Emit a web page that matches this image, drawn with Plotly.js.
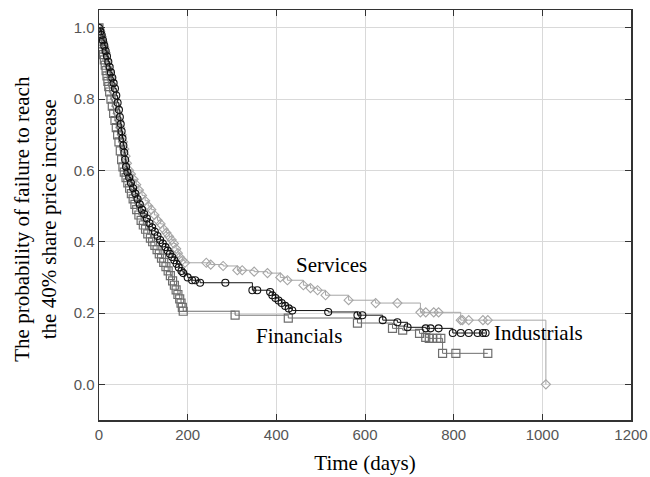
<!DOCTYPE html>
<html>
<head>
<meta charset="utf-8">
<script src="https://cdn.plot.ly/plotly-3.0.1.min.js"></script>
<style>html,body{margin:0;padding:0;background:#fff;}#chart{width:650px;height:477px;}</style>
</head>
<body>
<div id="chart"></div>
<script>
// Services (light gray, diamonds)
const servicesDays = [0,3,6,9,12,15,18,21,24,27,30,33,36,39,42,45,48,51,54,57,60,63,68,72,78,84,90,97,104,111,118,125,132,139,146,152,158,164,169,174,178,182,188,194,242,252,280,312,323,350,380,409,425,461,477,493,511,563,624,673,725,737,755,766,816,820,834,866,877,1008];
const servicesProb = [1.0,0.99,0.975,0.96,0.945,0.93,0.91,0.895,0.875,0.86,0.84,0.82,0.80,0.78,0.76,0.74,0.72,0.70,0.68,0.66,0.64,0.62,0.60,0.59,0.575,0.56,0.545,0.53,0.515,0.50,0.49,0.475,0.46,0.45,0.435,0.425,0.415,0.405,0.395,0.38,0.368,0.357,0.348,0.341,0.341,0.336,0.332,0.32,0.32,0.316,0.312,0.30,0.292,0.278,0.27,0.264,0.25,0.236,0.228,0.228,0.202,0.202,0.202,0.202,0.18,0.18,0.18,0.18,0.18,0.0];

// Industrials (black, circles)
const industrialsDays = [0,3,6,9,12,15,18,21,24,27,30,33,36,39,42,45,47,49,51,53,55,57,59,61,64,68,72,77,82,87,92,97,102,108,114,120,126,132,138,144,150,155,160,165,170,175,180,186,190,200,210,217,228,285,346,357,386,391,398,405,412,420,428,436,517,583,594,640,673,696,737,748,766,798,816,834,854,866,872];
const industrialsProb = [1.0,0.99,0.98,0.965,0.95,0.935,0.92,0.905,0.89,0.875,0.86,0.845,0.83,0.81,0.79,0.77,0.75,0.73,0.71,0.69,0.67,0.65,0.63,0.61,0.595,0.58,0.565,0.55,0.535,0.52,0.505,0.49,0.478,0.465,0.452,0.44,0.428,0.416,0.405,0.395,0.385,0.375,0.366,0.357,0.348,0.338,0.328,0.318,0.312,0.30,0.292,0.292,0.285,0.285,0.264,0.264,0.259,0.25,0.242,0.235,0.228,0.22,0.213,0.207,0.203,0.194,0.194,0.18,0.174,0.16,0.157,0.157,0.157,0.144,0.144,0.144,0.144,0.144,0.144];

// Financials (dark gray, squares)
const financialsDays = [0,2,4,6,8,10,12,14,16,18,20,22,24,27,30,33,36,39,42,45,48,51,54,57,61,65,69,73,77,81,85,90,95,100,105,110,116,121,126,131,136,141,146,151,156,161,166,170,174,178,182,185,188,190,307,427,583,662,685,723,737,745,752,762,771,775,805,877];
const financialsProb = [1.0,0.985,0.97,0.955,0.94,0.925,0.91,0.895,0.88,0.865,0.85,0.835,0.82,0.80,0.78,0.76,0.74,0.72,0.70,0.68,0.655,0.63,0.61,0.595,0.58,0.565,0.55,0.535,0.52,0.505,0.49,0.475,0.46,0.447,0.435,0.422,0.41,0.40,0.39,0.378,0.366,0.354,0.342,0.33,0.318,0.305,0.29,0.278,0.265,0.252,0.24,0.228,0.216,0.205,0.194,0.186,0.172,0.157,0.152,0.143,0.132,0.129,0.129,0.129,0.129,0.087,0.087,0.087];

const xTicks = [0,200,400,600,800,1000,1200];
const yTicks = [0.0,0.2,0.4,0.6,0.8,1.0];
const yTickText = ['0.0','0.2','0.4','0.6','0.8','1.0'];

const labelFont = {family:'Liberation Serif, Times New Roman, serif', size:21, color:'#000'};

const traces = [
  {x:servicesDays, y:servicesProb, name:'Services', mode:'lines+markers', line:{shape:'hv', color:'#a6a6a6', width:1},
   marker:{symbol:'diamond-open', size:7, color:'#a6a6a6', line:{width:1.1}}},
  {x:financialsDays, y:financialsProb, name:'Financials', mode:'lines+markers', line:{shape:'hv', color:'#6e6e6e', width:1},
   marker:{symbol:'square-open', size:8, color:'#6e6e6e', line:{width:1.2}}},
  {x:industrialsDays, y:industrialsProb, name:'Industrials', mode:'lines+markers', line:{shape:'hv', color:'#111', width:1},
   marker:{symbol:'circle-open', size:7, color:'#111', line:{width:1.1}}}
];

const layout = {
  width:650, height:477,
  margin:{l:99, r:19, t:10, b:57},
  paper_bgcolor:'#fff', plot_bgcolor:'#fff',
  showlegend:false,
  font:{family:'Liberation Sans, Arial, sans-serif', size:15, color:'#555'},
  xaxis:{range:[0,1200], tickvals:xTicks, ticktext:xTicks.map(String), ticks:'inside', ticklen:6, tickcolor:'#333',
    showline:true, linecolor:'#333', linewidth:1.5, mirror:'ticks', showgrid:true, gridcolor:'#d9d9d9', gridwidth:1,
    zeroline:false, tickfont:{size:15, color:'#555'},
    title:{text:'Time (days)', font:labelFont, standoff:14}},
  yaxis:{range:[-0.1,1.05], tickvals:yTicks, ticktext:yTickText, ticks:'inside', ticklen:6, tickcolor:'#333',
    showline:true, linecolor:'#333', linewidth:1.5, mirror:'ticks', showgrid:true, gridcolor:'#d9d9d9', gridwidth:1,
    zeroline:false, tickfont:{size:15, color:'#555'}},
  annotations:[
    {text:'The probability of failure to reach<br>the 40% share price increase', textangle:-90, xref:'paper', yref:'paper',
     x:-0.121, y:0.49, xanchor:'center', yanchor:'middle', showarrow:false, font:labelFont},
    {text:'Services', x:525, y:0.335, xref:'x', yref:'y', showarrow:false, font:labelFont},
    {text:'Financials', x:450, y:0.135, xref:'x', yref:'y', showarrow:false, font:labelFont},
    {text:'Industrials', x:992, y:0.143, xref:'x', yref:'y', showarrow:false, font:labelFont}
  ]
};

Plotly.newPlot('chart', traces, layout, {displayModeBar:false, staticPlot:true});
</script>
</body>
</html>
